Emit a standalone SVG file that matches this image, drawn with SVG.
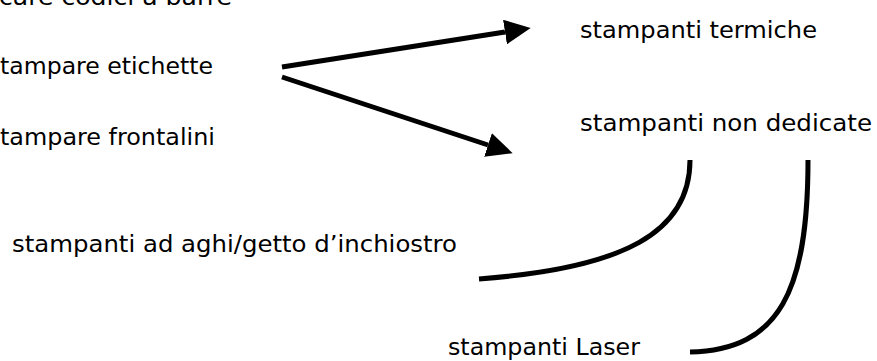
<svg xmlns="http://www.w3.org/2000/svg" width="877" height="361" viewBox="0 0 877 361">
<style>
.t{font-family:"DejaVu Sans","Liberation Sans",sans-serif;font-size:23px;fill:#000}
.c{fill:none;stroke:#000;stroke-width:5}
</style>
<defs>
<marker id="ah" markerWidth="5.2" markerHeight="5" refX="0" refY="2.5" orient="auto" markerUnits="strokeWidth">
<path d="M0,0 L5.2,2.5 L0,5 z" fill="#000"/>
</marker>
</defs>
<rect width="877" height="361" fill="#fff"/>
<g id="n-codici"><text class="t" x="-1" y="5" textLength="233" lengthAdjust="spacingAndGlyphs">care codici a barre</text></g>
<g id="n-etichette"><text class="t" x="0" y="74" textLength="213" lengthAdjust="spacingAndGlyphs">tampare etichette</text></g>
<g id="n-frontalini"><text class="t" x="0" y="145" textLength="215" lengthAdjust="spacingAndGlyphs">tampare frontalini</text></g>
<g id="n-termiche"><text class="t" x="580" y="38" textLength="237" lengthAdjust="spacingAndGlyphs">stampanti termiche</text></g>
<g id="n-nondedicate"><text class="t" x="580" y="131" textLength="292" lengthAdjust="spacingAndGlyphs">stampanti non dedicate</text></g>
<g id="n-aghi"><text class="t" x="12" y="252" textLength="445" lengthAdjust="spacingAndGlyphs">stampanti ad aghi/getto d’inchiostro</text></g>
<g id="n-laser"><text class="t" x="448" y="355" textLength="192" lengthAdjust="spacingAndGlyphs">stampanti Laser</text></g>
<g id="connectors">
<path class="c" d="M282,67 L505,32" marker-end="url(#ah)"/>
<path class="c" d="M282,77 L488,145" marker-end="url(#ah)"/>
<path class="c" d="M690,160 C690,232 625,268 479,279"/>
<path class="c" d="M808,160 C808,290 780,350 690,352"/>
</g>
</svg>
